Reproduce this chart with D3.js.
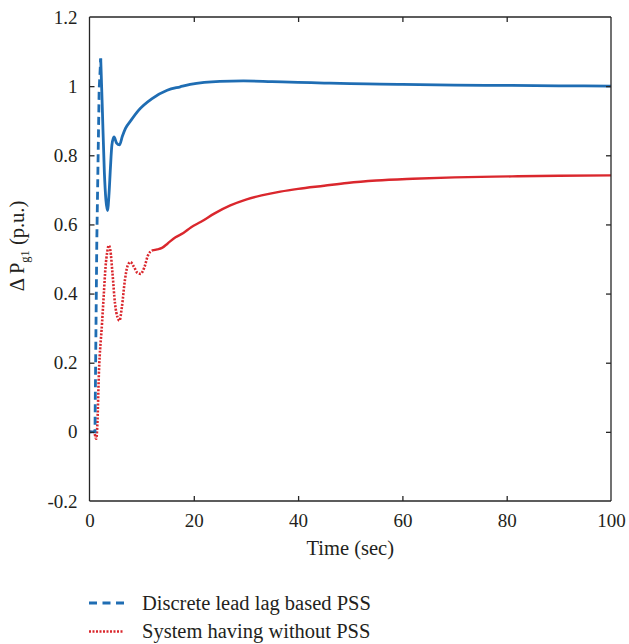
<!DOCTYPE html>
<html>
<head>
<meta charset="utf-8">
<script src="https://cdn.jsdelivr.net/npm/d3@7"></script>
<style>
  html, body { margin: 0; padding: 0; background: #fff; }
  svg { display: block; font-family: "Liberation Serif", "DejaVu Serif", serif; }
</style>
</head>
<body>
<div id="chart"></div>
<script>
// Discrete lead lag based PSS (time s, delta P p.u.)
const pssTime = [0, 1.0, 1.05, 1.4, 1.85, 2.15, 2.45, 2.85, 3.15, 3.45, 3.75, 4.0, 4.3, 4.7, 5.2, 5.75,
  6.3, 6.9, 7.9, 9.4, 12, 14.9, 17.4, 19.3, 22, 25, 29.5, 35, 40, 45, 50, 55.7, 60, 70, 81, 90, 100];
const pssValue = [0, 0, 0, 0.55, 0.99, 1.08, 0.94, 0.75, 0.67, 0.64, 0.69, 0.76, 0.83, 0.853, 0.835, 0.83,
  0.855, 0.878, 0.9, 0.93, 0.964, 0.988, 0.998, 1.005, 1.011, 1.014, 1.015, 1.013, 1.011, 1.009, 1.007, 1.006,
  1.005, 1.003, 1.002, 1.001, 1.0];

// System having without PSS
const noPssTime = [0, 0.9, 1.15, 1.3, 1.5, 1.8, 2.4, 2.75, 3.07, 3.4, 3.7, 4.0, 4.4, 4.9, 5.4, 5.75, 6.2, 6.8,
  7.3, 7.85, 8.5, 9.2, 9.8, 10.5, 11.2, 12, 13, 13.9, 15, 16.5, 18, 19.5, 21.3, 24, 27, 30, 33, 36.6, 40, 45,
  49.4, 55, 62, 70, 81, 90, 100];
const noPssValue = [0, 0, -0.015, -0.02, 0.02, 0.168, 0.313, 0.4, 0.476, 0.52, 0.539, 0.525, 0.46, 0.37, 0.33,
  0.322, 0.36, 0.44, 0.48, 0.491, 0.478, 0.46, 0.457, 0.475, 0.51, 0.525, 0.528, 0.532, 0.545, 0.563, 0.575,
  0.592, 0.607, 0.632, 0.655, 0.672, 0.684, 0.695, 0.703, 0.712, 0.72, 0.727, 0.732, 0.736, 0.739, 0.741, 0.742];

const xTicks = [0, 20, 40, 60, 80, 100];
const yTicks = [-0.2, 0, 0.2, 0.4, 0.6, 0.8, 1, 1.2];
const yTickLabels = ["-0.2", "0", "0.2", "0.4", "0.6", "0.8", "1", "1.2"];
const legendLabels = ["Discrete lead lag based PSS", "System having without PSS"];

const width = 629;
const height = 644;
const margin = { top: 17, right: 18, bottom: 143, left: 89.5 };
const blue = "#1f6db3";
const red = "#da272d";
const axisColor = "#262626";
const textColor = "#231f20";
const tickFont = 19;
const titleFont = 20.5;

// where the long dashed / dotted stretch ends
const pssDashEnd = 2.15;
const noPssDotEnd = 12;

const svg = d3.select("#chart")
  .append("svg")
  .attr("width", width)
  .attr("height", height);

const x = d3.scaleLinear().domain([0, 100]).range([margin.left, width - margin.right]);
const y = d3.scaleLinear().domain([-0.2, 1.2]).range([height - margin.bottom, margin.top]);

const pss = pssTime.map((t, i) => ({ t, v: pssValue[i] }));
const noPss = noPssTime.map((t, i) => ({ t, v: noPssValue[i] }));

const line = d3.line()
  .x((d) => x(d.t))
  .y((d) => y(d.v))
  .curve(d3.curveMonotoneX);

// the jump is drawn as a long dashed segment, the dense part reads as solid
const plot = svg.append("g");
plot.append("path")
  .datum(noPss.filter((d) => d.t <= noPssDotEnd))
  .attr("fill", "none")
  .attr("stroke", red)
  .attr("stroke-width", 2.6)
  .attr("stroke-dasharray", "2,1.5")
  .attr("d", line);
plot.append("path")
  .datum(noPss.filter((d) => d.t >= noPssDotEnd))
  .attr("fill", "none")
  .attr("stroke", red)
  .attr("stroke-width", 2.4)
  .attr("d", line);
plot.append("path")
  .datum(pss.filter((d) => d.t <= pssDashEnd))
  .attr("fill", "none")
  .attr("stroke", blue)
  .attr("stroke-width", 2.8)
  .attr("stroke-dasharray", "8,4.5")
  .attr("d", d3.line().x((d) => x(d.t)).y((d) => y(d.v)));
plot.append("path")
  .datum(pss.filter((d) => d.t >= pssDashEnd))
  .attr("fill", "none")
  .attr("stroke", blue)
  .attr("stroke-width", 2.8)
  .attr("stroke-linejoin", "round")
  .attr("d", line);

// Axes (box with inward ticks on all sides)
const tickLen = 5;
const gx = svg.append("g")
  .attr("transform", `translate(0,${y(-0.2)})`)
  .call(d3.axisBottom(x).tickValues(xTicks).tickSize(-tickLen).tickPadding(13).tickFormat(d3.format("d")));
const gxTop = svg.append("g")
  .attr("transform", `translate(0,${y(1.2)})`)
  .call(d3.axisTop(x).tickValues(xTicks).tickSize(-tickLen).tickFormat(""));
const gy = svg.append("g")
  .attr("transform", `translate(${x(0)},0)`)
  .call(d3.axisLeft(y).tickValues(yTicks).tickSize(-tickLen).tickPadding(12)
    .tickFormat((d, i) => yTickLabels[i]));
const gyRight = svg.append("g")
  .attr("transform", `translate(${x(100)},0)`)
  .call(d3.axisRight(y).tickValues(yTicks).tickSize(-tickLen).tickFormat(""));

[gx, gxTop].forEach((g) => g.select(".domain").attr("d", `M${x(0)},0H${x(100)}`));
[gy, gyRight].forEach((g) => g.select(".domain").attr("d", `M0,${y(-0.2)}V${y(1.2)}`));
[gx, gxTop, gy, gyRight].forEach((g) => {
  g.attr("font-size", tickFont)
    .attr("font-family", null)
    .call((g) => g.select(".domain").attr("stroke", axisColor).attr("stroke-width", 1.3))
    .call((g) => g.selectAll(".tick line").attr("stroke", axisColor).attr("stroke-width", 1.3))
    .call((g) => g.selectAll(".tick text").attr("fill", textColor));
});
[gx, gxTop].forEach((g) => g.selectAll(".tick").filter((d) => d === 0 || d === 100).select("line").remove());
[gy, gyRight].forEach((g) => g.selectAll(".tick").filter((d) => d === -0.2 || d === 1.2).select("line").remove());

// Axis titles
svg.append("text")
  .attr("x", (x(0) + x(100)) / 2)
  .attr("y", 555)
  .attr("text-anchor", "middle")
  .attr("font-size", titleFont)
  .attr("fill", textColor)
  .text("Time (sec)");

const yTitle = svg.append("text")
  .attr("transform", "translate(24,246) rotate(-90)")
  .attr("text-anchor", "middle")
  .attr("font-size", titleFont)
  .attr("fill", textColor);
yTitle.append("tspan").text("Δ P");
yTitle.append("tspan").attr("font-size", 12.5).attr("dy", 5).text("g1");
yTitle.append("tspan").attr("dy", -5).text(" (p.u.)");

// Legend
const legend = svg.append("g");
const legendRows = legend.selectAll("g")
  .data(legendLabels)
  .join("g")
  .attr("transform", (d, i) => `translate(0,${603 + i * 28.5})`);
legendRows.append("line")
  .attr("x1", 89)
  .attr("x2", 124)
  .attr("stroke", (d, i) => (i === 0 ? blue : red))
  .attr("stroke-width", (d, i) => (i === 0 ? 2.8 : 2.6))
  .attr("stroke-dasharray", (d, i) => (i === 0 ? "8,5.5" : "2,1.5"));
legendRows.append("text")
  .attr("x", 142)
  .attr("dy", "0.32em")
  .attr("font-size", titleFont)
  .attr("fill", textColor)
  .text((d) => d);
</script>
</body>
</html>
